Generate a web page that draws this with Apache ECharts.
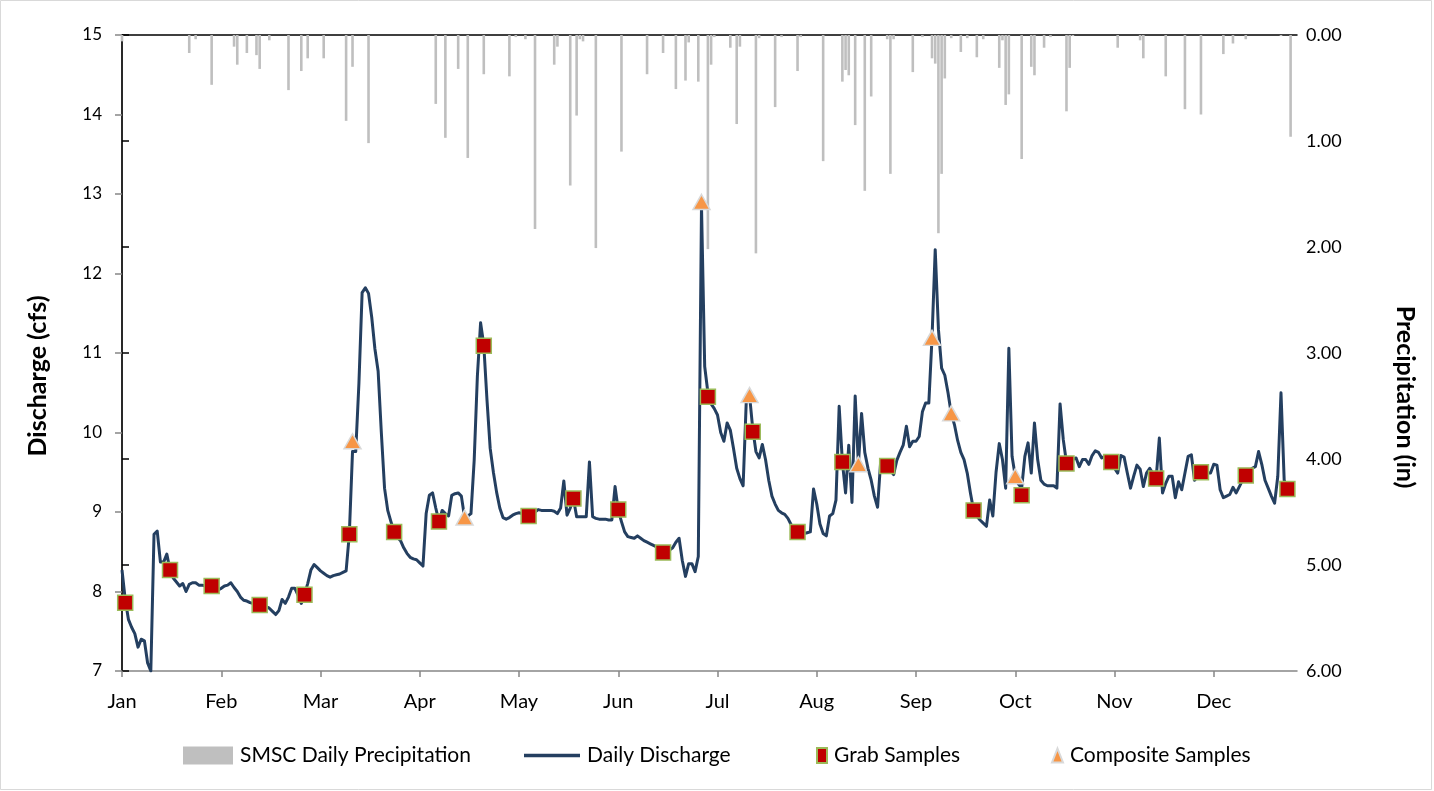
<!DOCTYPE html>
<html>
<head>
<meta charset="utf-8">
<script src="https://cdn.jsdelivr.net/npm/echarts@6/dist/echarts.min.js"></script>
<style>
  html, body { margin: 0; padding: 0; background: #ffffff; }
  #chart { width: 1434px; height: 791px; }
</style>
</head>
<body>
<div id="chart"></div>
<script>
// Month labels placed every 31 days from Jan 1 (day 0)
const monthLabels = ['Jan', 'Feb', 'Mar', 'Apr', 'May', 'Jun', 'Jul', 'Aug', 'Sep', 'Oct', 'Nov', 'Dec'];
const monthTickDays = [0, 31, 62, 93, 124, 155, 186, 217, 248, 279, 310, 341];

// Daily discharge (cfs), one value per day starting Jan 1
const dailyDischarge = [
  8.27, 7.90, 7.65, 7.55, 7.47, 7.30, 7.40, 7.38, 7.10, 7.00,
  8.72, 8.76, 8.37, 8.37, 8.47, 8.27, 8.17, 8.12, 8.07, 8.10,
  8.00, 8.09, 8.11, 8.11, 8.08, 8.08, 8.07, 8.07, 8.07, 8.04,
  8.02, 8.04, 8.07, 8.08, 8.11, 8.05, 8.00, 7.93, 7.89, 7.88,
  7.86, 7.85, 7.84, 7.83, 7.83, 7.81, 7.79, 7.75, 7.71, 7.76,
  7.90, 7.85, 7.93, 8.04, 8.04, 7.95, 7.85, 7.96, 8.10, 8.27,
  8.34, 8.30, 8.26, 8.23, 8.20, 8.18, 8.20, 8.21, 8.22, 8.24,
  8.26, 8.72, 9.76, 9.76, 10.62, 11.76, 11.82, 11.75, 11.45, 11.05,
  10.77, 10.00, 9.30, 9.02, 8.88, 8.75, 8.68, 8.64, 8.55, 8.48,
  8.43, 8.41, 8.40, 8.36, 8.32, 8.98, 9.21, 9.24, 9.05, 8.88,
  9.02, 8.98, 8.95, 9.21, 9.23, 9.24, 9.20, 8.93, 8.95, 8.98,
  9.65, 10.71, 11.38, 11.10, 10.41, 9.80, 9.50, 9.25, 9.05, 8.93,
  8.91, 8.93, 8.96, 8.98, 8.99, 8.98, 8.96, 8.95, 8.97, 9.00,
  9.03, 9.02, 9.02, 9.02, 9.02, 9.01, 8.98, 9.05, 9.39, 8.96,
  9.05, 9.17, 8.94, 8.94, 8.94, 8.94, 9.63, 8.94, 8.92, 8.91,
  8.91, 8.91, 8.90, 8.90, 9.32, 9.02, 8.88, 8.75, 8.69, 8.68,
  8.67, 8.70, 8.67, 8.64, 8.62, 8.60, 8.58, 8.56, 8.52, 8.49,
  8.50, 8.52, 8.55, 8.62, 8.67, 8.39, 8.19, 8.35, 8.35, 8.25,
  8.44, 12.85, 10.83, 10.50, 10.36, 10.30, 10.22, 10.00, 9.89, 10.12,
  10.03, 9.80, 9.55, 9.42, 9.33, 10.41, 10.47, 10.05, 9.76, 9.68,
  9.85, 9.66, 9.40, 9.20, 9.10, 9.02, 8.99, 8.97, 8.92, 8.84,
  8.78, 8.75, 8.74, 8.73, 8.74, 8.75, 9.29, 9.10, 8.85, 8.73,
  8.70, 8.95, 8.98, 9.15, 10.33, 9.63, 9.24, 9.84, 9.12, 10.46,
  9.60, 10.24, 9.75, 9.55, 9.40, 9.20, 9.06, 9.66, 9.60, 9.58,
  9.52, 9.47, 9.65, 9.75, 9.84, 10.08, 9.82, 9.89, 9.89, 9.95,
  10.26, 10.37, 10.37, 11.19, 12.30, 11.30, 10.81, 10.72, 10.50, 10.24,
  10.10, 9.90, 9.75, 9.66, 9.49, 9.24, 9.02, 8.95, 8.90, 8.86,
  8.82, 9.15, 8.95, 9.50, 9.86, 9.66, 9.30, 11.06, 9.70, 9.45,
  9.35, 9.30, 9.70, 9.87, 9.49, 10.12, 9.66, 9.40, 9.35, 9.33,
  9.33, 9.33, 9.30, 10.36, 9.91, 9.62, 9.57, 9.66, 9.68, 9.57,
  9.66, 9.66, 9.60, 9.71, 9.77, 9.75, 9.68, 9.70, 9.65, 9.63,
  9.55, 9.49, 9.71, 9.69, 9.49, 9.30, 9.45, 9.59, 9.54, 9.32,
  9.49, 9.55, 9.48, 9.42, 9.93, 9.24, 9.36, 9.45, 9.45, 9.18,
  9.38, 9.28, 9.49, 9.70, 9.72, 9.40, 9.45, 9.50, 9.52, 9.49,
  9.49, 9.60, 9.59, 9.28, 9.18, 9.20, 9.22, 9.31, 9.24, 9.32,
  9.40, 9.46, 9.50, 9.55, 9.57, 9.76, 9.60, 9.40, 9.30, 9.20,
  9.11, 9.45, 10.50, 9.40, 9.29
];

// SMSC daily precipitation (in): day of year and depth, dry days omitted
const precipDays = [
  0, 21, 23, 28, 35, 36, 39, 42, 43, 46, 52, 56, 58, 63, 70, 72, 77,
  98, 101, 105, 108, 113, 121, 123, 126, 129, 135, 136, 140, 142, 143, 144, 148,
  156, 164, 169, 173, 176, 177, 180, 183, 184, 185, 190, 192, 193, 198, 199,
  204, 206, 211, 212, 219, 225, 226, 227, 229, 232, 234, 239, 240, 241, 247,
  250, 253, 254, 255, 256, 257, 259, 262, 264, 267, 269, 274, 275, 276, 277,
  281, 284, 285, 288, 290, 295, 296, 297, 311, 318, 319, 326, 332, 337, 344,
  347, 351, 362, 365
];
const precipInches = [
  0.06, 0.17, 0.04, 0.47, 0.11, 0.28, 0.17, 0.19, 0.32, 0.05, 0.52, 0.34, 0.22, 0.22, 0.81, 0.30, 1.02,
  0.65, 0.97, 0.32, 1.16, 0.37, 0.39, 0.02, 0.04, 1.83, 0.28, 0.11, 1.42, 0.76, 0.04, 0.06, 2.01,
  1.10, 0.37, 0.17, 0.51, 0.43, 0.07, 0.44, 2.02, 0.28, 0.02, 0.12, 0.84, 0.11, 2.06, 0.03,
  0.68, 0.02, 0.34, 0.02, 1.19, 0.44, 0.33, 0.38, 0.85, 1.47, 0.58, 0.04, 1.31, 0.04, 0.35,
  0.02, 0.22, 0.27, 1.87, 1.31, 0.41, 0.03, 0.16, 0.03, 0.21, 0.04, 0.31, 0.05, 0.66, 0.56,
  1.17, 0.30, 0.38, 0.12, 0.02, 0.72, 0.31, 0.01, 0.12, 0.05, 0.22, 0.39, 0.70, 0.75, 0.18,
  0.08, 0.04, 0.01, 0.96
];

// Grab samples (day of year, cfs)
const grabDays = [1, 15, 28, 43, 57, 71, 85, 99, 113, 127, 141, 155, 169, 183, 197, 211, 225, 239, 266, 281, 295, 309, 323, 337, 351, 364];
const grabValues = [7.86, 8.27, 8.07, 7.83, 7.96, 8.72, 8.75, 8.88, 11.09, 8.95, 9.17, 9.03, 8.49, 10.45, 10.01, 8.75, 9.63, 9.58, 9.02, 9.21, 9.61, 9.63, 9.42, 9.50, 9.46, 9.29];

// Composite samples (day of year, cfs)
const compositeDays = [72, 107, 181, 196, 230, 253, 259, 279];
const compositeValues = [9.89, 8.93, 12.90, 10.47, 9.60, 11.19, 10.24, 9.45];

const FONT = 'Lato, "Open Sans", "Liberation Sans", sans-serif';
const dischargeData = dailyDischarge.map((v, i) => [i, v]);
const precipData = precipDays.map((d, i) => [d, precipInches[i]]);
const grabData = grabDays.map((d, i) => [d, grabValues[i]]);
const compositeData = compositeDays.map((d, i) => [d, compositeValues[i]]);

const chart = echarts.init(document.getElementById('chart'), null, { renderer: 'canvas' });

function legendBlock(name, left, extra) {
  return Object.assign({
    data: [name],
    left: left,
    top: 745,
    orient: 'horizontal',
    padding: 0,
    selectedMode: false,
    textStyle: { fontFamily: FONT, fontSize: 21, color: '#000000', padding: [0, 0, 0, 2] }
  }, extra);
}

chart.setOption({
  backgroundColor: '#ffffff',
  animation: false,
  grid: { left: 122, right: 137, top: 35, bottom: 120, containLabel: false },
  graphic: [
    {
      type: 'rect',
      shape: { x: 0.5, y: 0.5, width: 1431, height: 789 },
      style: { fill: 'none', stroke: '#d9d9d9', lineWidth: 1 },
      silent: true
    },
    {
      // left axis title
      type: 'text',
      x: 38, y: 376,
      rotation: Math.PI / 2,
      style: {
        text: 'Discharge (cfs)', fill: '#000000',
        font: 'bold 25px ' + FONT, align: 'center', verticalAlign: 'middle'
      },
      silent: true
    },
    {
      // right axis title
      type: 'text',
      x: 1405, y: 397,
      rotation: -Math.PI / 2,
      style: {
        text: 'Precipitation (in)', fill: '#000000',
        font: 'bold 25px ' + FONT, align: 'center', verticalAlign: 'middle'
      },
      silent: true
    }
  ],
  legend: [
    legendBlock('SMSC Daily Precipitation', 183, { itemWidth: 50, itemHeight: 18, icon: 'rect' }),
    legendBlock('Daily Discharge', 524, { itemWidth: 56, itemHeight: 3.5, icon: 'rect' }),
    legendBlock('Grab Samples', 816, { itemWidth: 10, itemHeight: 15, icon: 'rect' }),
    legendBlock('Composite Samples', 1051, { itemWidth: 11, itemHeight: 14, icon: 'triangle' })
  ],
  xAxis: [
    {
      type: 'value',
      min: 0,
      max: 367,
      position: 'bottom',
      axisLine: { onZero: false, lineStyle: { color: '#868686', width: 1.5 } },
      axisTick: { show: true, length: 6, lineStyle: { color: '#868686', width: 1.5 }, customValues: monthTickDays },
      axisLabel: {
        customValues: monthTickDays,
        formatter: (v) => monthLabels[Math.round(v / 31)] || '',
        fontFamily: FONT, fontSize: 20, color: '#000000', margin: 21
      },
      splitLine: { show: false }
    },
    {
      type: 'value',
      min: 0,
      max: 367,
      position: 'top',
      axisLine: { onZero: false, lineStyle: { color: '#000000', width: 1.5 } },
      axisTick: { show: false },
      axisLabel: { show: false },
      splitLine: { show: false }
    }
  ],
  yAxis: [
    {
      type: 'value',
      min: 7,
      max: 15,
      interval: 1,
      position: 'left',
      axisLine: { show: true, lineStyle: { color: '#868686', width: 1.5 } },
      axisTick: { show: true, length: 7, lineStyle: { color: '#868686', width: 1.5 } },
      axisLabel: { fontFamily: FONT, fontSize: 17, color: '#000000', margin: 20 },
      splitLine: { show: false }
    },
    {
      type: 'value',
      min: 0,
      max: 6,
      interval: 1,
      inverse: true,
      position: 'right',
      axisLine: { show: true, lineStyle: { color: '#000000', width: 1.5 } },
      axisTick: { show: true, length: 7, lineStyle: { color: '#000000', width: 1.5 } },
      axisLabel: { fontFamily: FONT, fontSize: 18, color: '#000000', margin: 9, formatter: (v) => v.toFixed(2) },
      splitLine: { show: false }
    }
  ],
  series: [
    {
      name: 'SMSC Daily Precipitation',
      type: 'bar',
      xAxisIndex: 1,
      yAxisIndex: 1,
      data: precipData,
      barWidth: 2.6,
      itemStyle: { color: '#bfbfbf' },
      z: 1
    },
    {
      name: 'Daily Discharge',
      type: 'line',
      xAxisIndex: 0,
      yAxisIndex: 0,
      data: dischargeData,
      showSymbol: false,
      symbol: 'none',
      lineStyle: { color: '#243f60', width: 3, join: 'round' },
      itemStyle: { color: '#243f60' },
      z: 3
    },
    {
      name: 'Grab Samples',
      type: 'scatter',
      xAxisIndex: 0,
      yAxisIndex: 0,
      data: grabData,
      symbol: 'rect',
      symbolSize: 15,
      itemStyle: { color: '#c00000', borderColor: '#9bbb59', borderWidth: 1.5, opacity: 1 },
      z: 5
    },
    {
      name: 'Composite Samples',
      type: 'scatter',
      xAxisIndex: 0,
      yAxisIndex: 0,
      data: compositeData,
      symbol: 'triangle',
      symbolSize: [17, 15],
      itemStyle: { color: '#f79646', borderColor: '#d9d9d9', borderWidth: 1.5, opacity: 1 },
      z: 6
    }
  ]
});
</script>
</body>
</html>
